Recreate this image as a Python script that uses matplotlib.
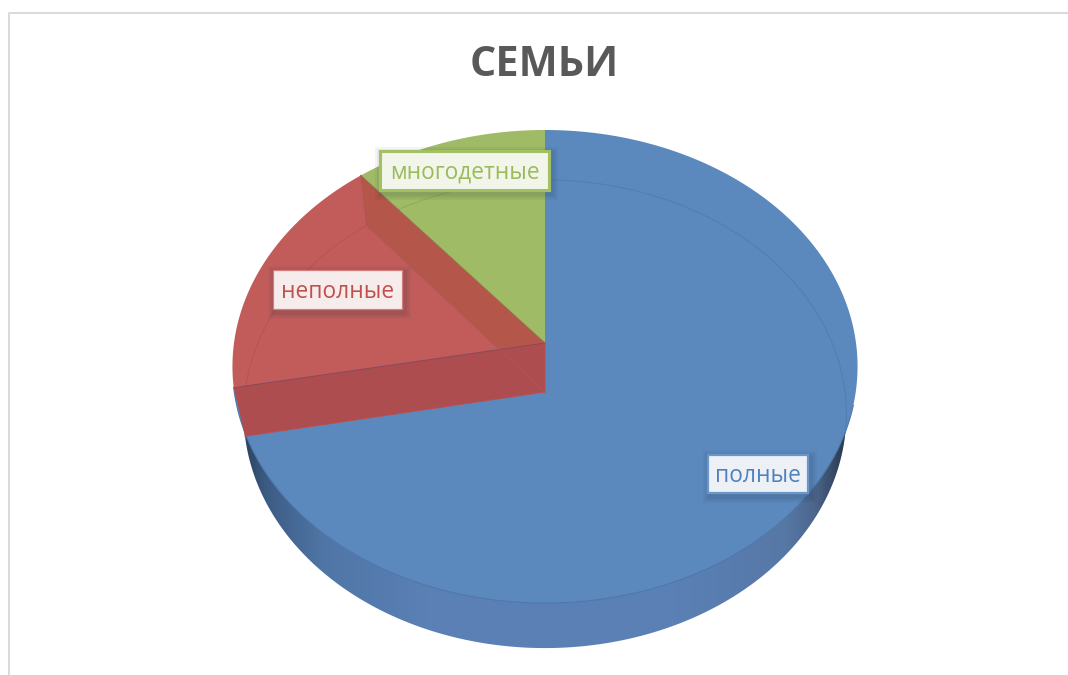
import matplotlib
matplotlib.use('Agg')
import matplotlib.pyplot as plt
from matplotlib.colors import LinearSegmentedColormap
from matplotlib.patches import Polygon, Rectangle
import numpy as np

categories = ['полные', 'неполные', 'многодетные']
values = [72, 17, 11]

top_colors = ['#5b89be', '#c25c5a', '#9fbb66']
text_colors = ['#4f81bd', '#c0504d', '#9bbb59']
# box x0, y0, x1, y1 in picture pixels
boxes = [(708, 455, 808, 493), (273, 270, 402, 309), (380, 151, 549, 190)]
box_faces = ['#edf1f6', '#f6ecec', '#f1f5ea']
box_edges = ['#6b96c9', '#d47f7c', '#a3c164']
box_lw = [1.6, 0.9, 2.2]

plt.rcParams['font.family'] = ['Open Sans', 'DejaVu Sans']

fig = plt.figure(figsize=(10.68, 6.75), dpi=100)
ax = fig.add_axes([0, 0, 1, 1])


def top_disk(theta):
    # theta is clockwise from 12 o'clock, perspective tilt on the upper face
    u, v = np.sin(theta), np.cos(theta)
    w = 1 + 0.0995 * v
    return 545 + 311 * u / w, 343 - 234.2 * v / w


def low_disk(theta):
    u, v = np.sin(theta), np.cos(theta)
    w = 1 + 0.094 * v
    return 545 + 300 * u / w, 392 - 232 * v / w


def arc(func, a, b):
    x, y = func(np.linspace(a, b, 300))
    return np.column_stack([x, y])


# slice limits come from the values
edges = np.concatenate([[0], np.cumsum(values)]) / sum(values) * 2 * np.pi

# side of the pie, dark at both ends
stops = [(0.0, '#2c4462'), (0.035, '#3d5c85'), (0.13, '#4f76a6'), (0.3, '#5a80b5'),
         (0.72, '#5a80b5'), (0.9, '#5678a6'), (0.95, '#4c668c'), (0.985, '#34465f'), (1.0, '#2a3a50')]
side_cmap = LinearSegmentedColormap.from_list('side', stops)
lx, ly = low_disk(np.linspace(0, 2 * np.pi, 600))
img = ax.imshow(np.linspace(0, 1, 400).reshape(1, -1), cmap=side_cmap, aspect='auto',
                extent=[lx.min(), lx.max(), 660, 340], zorder=1)
side = Polygon(np.column_stack([lx, ly]), closed=True, transform=ax.transData,
               facecolor='none', edgecolor='none')
ax.add_patch(side)
img.set_clip_path(side)

# upper faces
apex = np.array([545.0, 343.0])
for i in range(len(values)):
    pts = np.vstack([apex, arc(top_disk, edges[i], edges[i + 1])])
    ax.add_patch(Polygon(pts, closed=True, facecolor=top_colors[i], edgecolor='none', zorder=2))

# front rim line of the blue slice
rim = arc(top_disk, np.radians(105), edges[1])
ax.plot(rim[:, 0], rim[:, 1], color='#4f78ad', lw=0.8, zorder=2.2)

# lower disk seen through the top
inner = arc(low_disk, edges[1], edges[2])
ax.plot(inner[:, 0], inner[:, 1], color='#a84a48', lw=0.8, alpha=0.4, zorder=2.3)
inner = arc(low_disk, edges[2] + 0.12, edges[3])
ax.plot(inner[:, 0], inner[:, 1], color='#86a552', lw=0.8, alpha=0.6, zorder=2.3)
inner = arc(low_disk, 0, np.radians(100))
ax.plot(inner[:, 0], inner[:, 1], color='#4f79ad', lw=0.8, alpha=0.7, zorder=2.3)

# inner wall between red and green
low_apex = np.array([545.0, 392.0])
a = edges[2]
wall = np.array([apex, top_disk(a), low_disk(a), low_apex])
ax.add_patch(Polygon(wall, closed=True, facecolor='#b5564a', edgecolor='none', zorder=2.5))
ax.plot([apex[0], top_disk(a)[0]], [apex[1], top_disk(a)[1]], color='#8f7a4a', lw=0.6, zorder=2.6)
ax.plot([top_disk(a)[0], low_disk(a)[0], low_apex[0]], [top_disk(a)[1], low_disk(a)[1], low_apex[1]],
        color='#b0544f', lw=0.7, zorder=2.6)

# front wall between red and blue
a = edges[1]
wall = np.array([apex, top_disk(a), low_disk(a), low_apex])
ax.add_patch(Polygon(wall, closed=True, facecolor='#ad4d4f', edgecolor='none', zorder=3))
ax.plot([apex[0], top_disk(a)[0]], [apex[1], top_disk(a)[1]], color='#8a4a58', lw=0.7, zorder=3.1)
ax.plot([low_disk(edges[2])[0], low_apex[0]], [low_disk(edges[2])[1], low_apex[1]],
        color='#b25a5c', lw=0.6, alpha=0.7, zorder=3.1)
ax.plot([low_disk(a)[0], low_apex[0], low_apex[0]], [low_disk(a)[1], low_apex[1], apex[1]],
        color='#b8504f', lw=0.7, zorder=3.1)

# labels
for i, name in enumerate(categories):
    x0, y0, x1, y1 = boxes[i]
    for grow, alpha in zip([7, 5, 3], [0.05, 0.06, 0.08]):
        ax.add_patch(Rectangle((x0 - grow + 2, y0 - grow + 3), x1 - x0 + 2 * grow, y1 - y0 + 2 * grow,
                               facecolor='#203040', edgecolor='none', alpha=alpha, zorder=4))
    ax.add_patch(Rectangle((x0, y0), x1 - x0, y1 - y0, facecolor=box_faces[i],
                           edgecolor=box_edges[i], lw=box_lw[i], zorder=5))
    ax.text((x0 + x1) / 2, (y0 + y1) / 2 + 2, name, color=text_colors[i], fontsize=16.4,
            ha='center', va='center', zorder=6)

ax.text(544.5, 65, 'СЕМЬИ', color='#595959', fontsize=29.8, fontweight='bold',
        ha='center', va='center', zorder=6)

# chart frame, cut by the screenshot on right and bottom
ax.plot([8.5, 8.5, 1068], [675, 13, 13], color='#d9d9d9', lw=1.4, zorder=0.5)

ax.set_xlim(0, 1068)
ax.set_ylim(675, 0)
ax.axis('off')

fig.savefig('out.png', dpi=100)
